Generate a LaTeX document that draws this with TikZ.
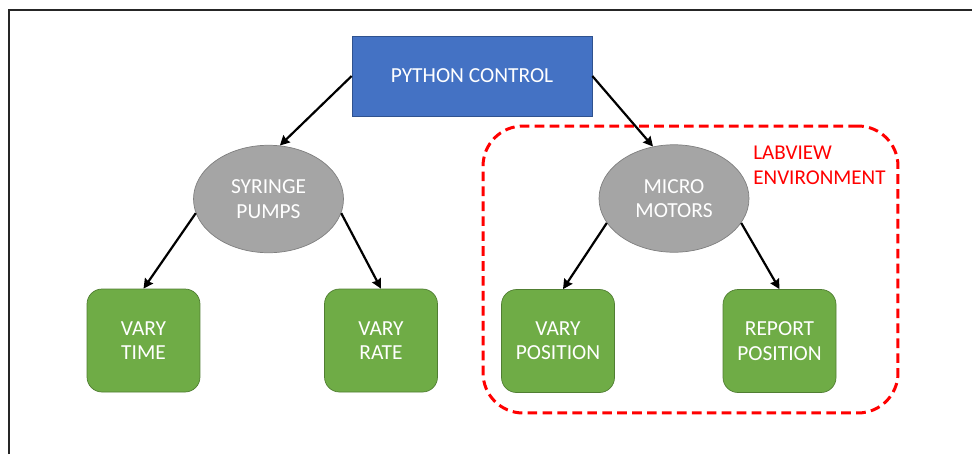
\documentclass[tikz,border=0pt]{standalone}
\usepackage{fontspec}
\setmainfont{Carlito}
\usetikzlibrary{shapes.geometric,arrows.meta}
\definecolor{pyblue}{HTML}{4472C4}
\definecolor{pyblueb}{HTML}{2F528F}
\definecolor{elgray}{HTML}{A5A5A5}
\definecolor{elgrayb}{HTML}{7F7F7F}
\definecolor{bxgreen}{HTML}{6FAC46}
\definecolor{bxgreenb}{HTML}{507E32}
\definecolor{envred}{HTML}{FF0000}
\tikzset{
  lbl/.style={text=white, font=\fontsize{12.2}{13.8}\selectfont, align=center},
  pybox/.style={lbl, draw=pyblueb, line width=0.4pt, fill=pyblue, minimum width=4.8cm, minimum height=1.6cm, inner sep=0pt},
  ellnode/.style={lbl, ellipse, draw=elgrayb, line width=0.4pt, fill=elgray, minimum width=3.0cm, minimum height=2.15cm, inner sep=0pt},
  greenbox/.style={lbl, rounded corners=0.3cm, draw=bxgreenb, line width=0.4pt, fill=bxgreen, minimum width=2.26cm, minimum height=2.06cm, inner sep=0pt},
  envbox/.style={draw=envred, line width=1.7pt, dash pattern=on 5.5pt off 3pt, rounded corners=0.8cm, minimum width=8.3cm, minimum height=5.74cm, inner sep=0pt},
  conn/.style={-{Stealth[length=5.5pt,width=5.5pt,inset=0.5pt]}, line width=1.25pt, black},
}
\begin{document}
\begin{tikzpicture}[x=0.02cm, y=-0.02cm]
\useasboundingbox (0,0) rectangle (972,454);
\draw[line width=1.1pt, black!85] (9,454) -- (9,10) -- (972,10);
\node[envbox] (env) at (690.5,269.5) {};
\node[pybox] (py) at (472,76) {PYTHON CONTROL};
\node[ellnode] (syr) at (268.5,199) {SYRINGE\\PUMPS};
\node[ellnode] (mm) at (674,198.5) {MICRO\\MOTORS};
\node[greenbox] (vt) at (143.5,340.5) {VARY\\TIME};
\node[greenbox] (vr) at (381,340.5) {VARY\\RATE};
\node[greenbox] (vp) at (558,341) {VARY\\POSITION};
\node[greenbox] (rp) at (779.5,341) {REPORT\\POSITION};
\node[anchor=north west, inner sep=0pt, text=envred, align=left, font=\fontsize{12}{14.2}\selectfont] (envlbl) at (753,146) {LABVIEW\\ENVIRONMENT};
\coordinate (vpin) at ([xshift=0.1cm]vp.north);
\draw[conn] (py.west) -- (syr.78);
\draw[conn] (py.east) -- (mm.112);
\draw[conn] (syr.191) -- (vt.north);
\draw[conn] (syr.349) -- (vr.north);
\draw[conn] (mm.200) -- (vpin);
\draw[conn] (mm.340) -- (rp.north);
\end{tikzpicture}
\end{document}
